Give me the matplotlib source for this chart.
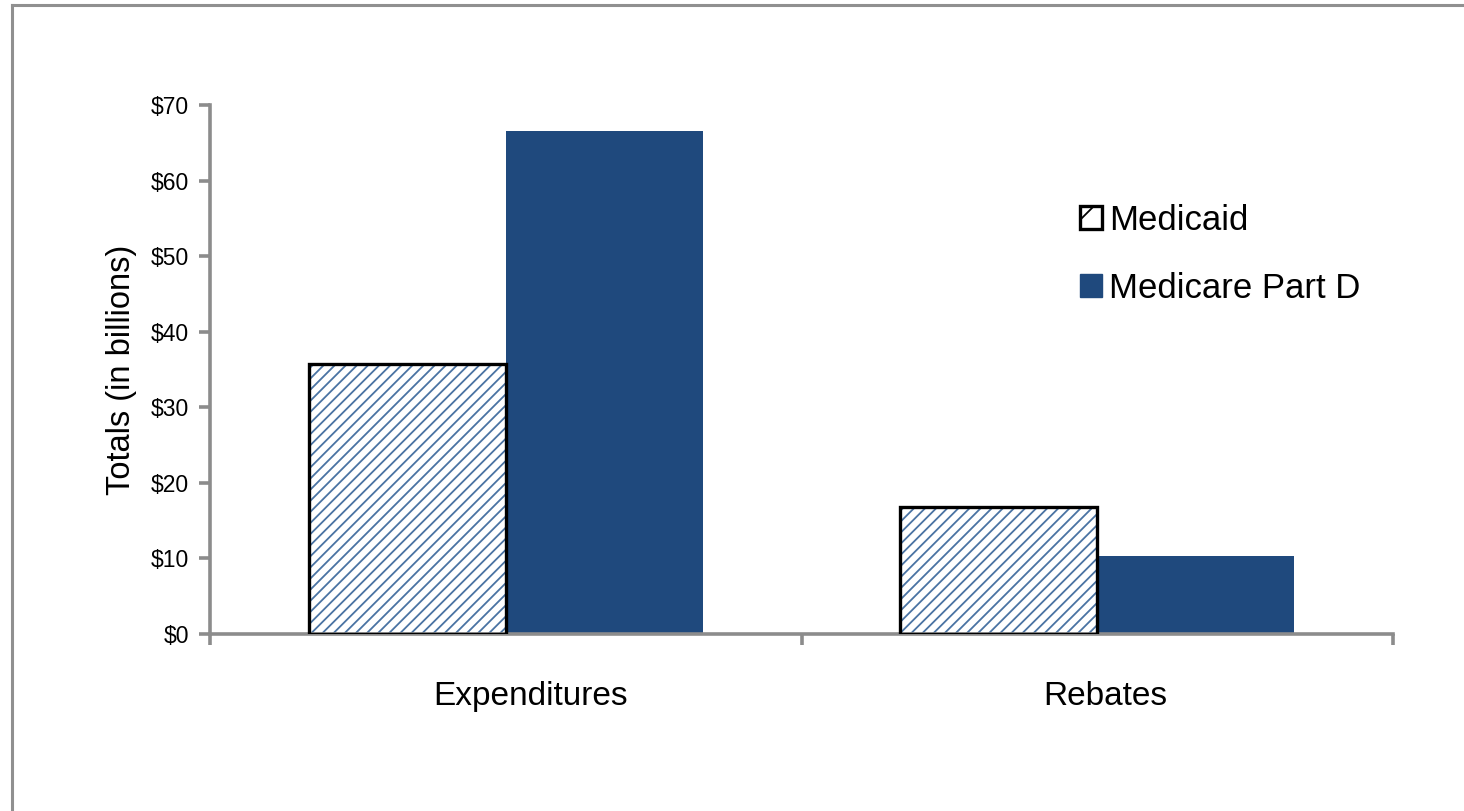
import matplotlib
matplotlib.use("Agg")
import matplotlib.pyplot as plt
from matplotlib.patches import Patch
from matplotlib.lines import Line2D
from matplotlib.transforms import ScaledTranslation
import numpy as np

categories = ["Expenditures", "Rebates"]
series_names = ["Medicaid", "Medicare Part D"]
medicaid = [35.7, 16.8]
medicare_d = [66.5, 10.3]
yticks = [0, 10, 20, 30, 40, 50, 60, 70]
ytick_labels = ["$0", "$10", "$20", "$30", "$40", "$50", "$60", "$70"]

plt.rcParams['font.family'] = ['Liberation Sans', 'DejaVu Sans']
plt.rcParams['hatch.linewidth'] = 1.3

W, H = 1464, 811
fig = plt.figure(figsize=(W/100, H/100), dpi=100)
ax = fig.add_axes([210/W, 1-634/H, (1393-210)/W, (634-105)/H])

navy = "#1F497D"
hatch_blue = "#4A73A3"
gray = "#8C8C8C"

x = np.array([0.5, 1.5])
bw = 1/3
# Medicaid: hatched fill then black outline
ax.bar(x - bw/2, medicaid, width=bw, color="white", edgecolor=hatch_blue,
       hatch="///", linewidth=0, zorder=2)
ax.bar(x - bw/2, medicaid, width=bw, fill=False, edgecolor="black",
       linewidth=2.4, zorder=3)
ax.bar(x + bw/2, medicare_d, width=bw, color=navy, edgecolor=navy,
       linewidth=0, zorder=2)

ax.set_xlim(0, 2)
ax.set_ylim(0, 70)
ax.set_xticks([0, 1, 2])
ax.set_xticklabels([])
ax.set_xticks(x, minor=True)
labels = ax.set_xticklabels(categories, minor=True, fontsize=24)
ax.tick_params(axis='x', which='minor', length=0, pad=34)
ax.tick_params(axis='x', which='major', length=8, width=2.6, color=gray, direction='out')
# slight rightward shift of category labels as in the reference
for lbl, dx in zip(labels, [0.25, 0.08]):
    lbl.set_transform(lbl.get_transform() + ScaledTranslation(dx, 0, fig.dpi_scale_trans))

ax.set_yticks(yticks)
ax.set_yticklabels(ytick_labels, fontsize=16.5)
ax.tick_params(axis='y', length=8, width=2.6, color=gray, direction='out', pad=7)

for s in ['top', 'right']:
    ax.spines[s].set_visible(False)
for s in ['left', 'bottom']:
    ax.spines[s].set_color(gray)
    ax.spines[s].set_linewidth(2.6)

ax.set_ylabel("Totals (in billions)", fontsize=23.5, labelpad=10)

handles = [Patch(facecolor="white", edgecolor="black", hatch="/", linewidth=2.4),
           Patch(facecolor=navy, edgecolor=navy)]
fig.legend(handles, series_names, loc='upper left',
           bbox_to_anchor=(1066/W, 1-190/H), frameon=False, fontsize=25,
           labelspacing=1.0, handlelength=0.65, handleheight=0.65,
           handletextpad=0.2, borderaxespad=0)

# figure border (top and left)
fig.add_artist(Line2D([12/W, 12/W], [0, 1-5/H], transform=fig.transFigure,
                      color="#909090", linewidth=2.2))
fig.add_artist(Line2D([12/W, 1], [1-5/H, 1-5/H], transform=fig.transFigure,
                      color="#909090", linewidth=2.2))

fig.savefig("out.png", dpi=100)
